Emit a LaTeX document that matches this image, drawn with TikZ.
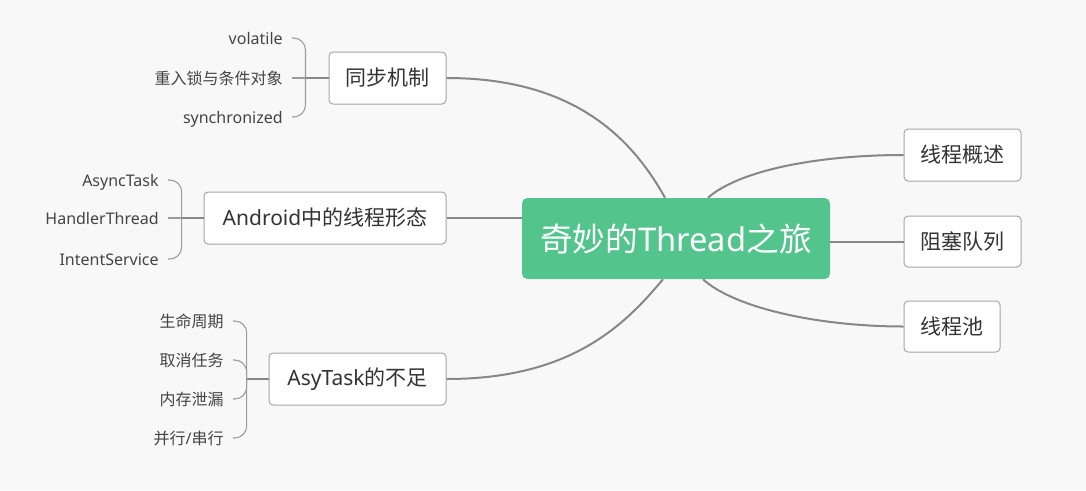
\documentclass[tikz,border=0pt]{standalone}
\usepackage{fontspec}
\setmainfont{Noto Sans}
\newfontfamily\cjk{Noto Sans CJK SC}
\usetikzlibrary{calc}
\definecolor{bg}{HTML}{F8F8F8}
\definecolor{mgreen}{HTML}{52C48C}
\definecolor{linegray}{HTML}{878787}
\definecolor{bracegray}{HTML}{9A9A9A}
\definecolor{boxgray}{HTML}{A6A6A6}
\definecolor{txt}{HTML}{333333}
\definecolor{leaftxt}{HTML}{444444}
\begin{document}
\begin{tikzpicture}[x=0.75pt,y=-0.75pt,
  central/.style={fill=mgreen, rounded corners=4pt, minimum width=231pt, minimum height=60.75pt, inner sep=0pt, text=white, font=\fontsize{24.5}{28}\selectfont},
  topic/.style={draw=boxgray, line width=0.75pt, fill=white, rounded corners=3pt, minimum height=39pt, inner sep=0pt, text=txt, font=\fontsize{15.75}{18}\selectfont},
  leaf/.style={inner sep=0pt, outer xsep=7pt, anchor=east, text=leaftxt, font=\fontsize{12}{14}\selectfont, text height=10.5pt, text depth=1.5pt},
  mainline/.style={draw=linegray, line width=1.5pt},
  trunk/.style={draw=linegray, line width=1.4pt},
  brace/.style={draw=bracegray, line width=0.8pt, rounded corners=9pt}]
\useasboundingbox (0,0) rectangle (1086,490);
\fill[bg] (0,0) rectangle (1086,490);

% central and topics
\node[central] (c) at (676,238.5) {{\cjk 奇妙的}Thread{\cjk 之旅}};
\node[topic, minimum width=87.75pt] (t1) at (387.5,78) {\cjk 同步机制};
\node[topic, minimum width=181.5pt] (t2) at (325,218) {Android{\cjk 中的线程形态}};
\node[topic, minimum width=132.75pt] (t3) at (357.5,379) {AsyTask{\cjk 的不足}};
\node[topic, minimum width=87.75pt] (r1) at (962.5,155) {\cjk 线程概述};
\node[topic, minimum width=87.75pt, minimum height=38.25pt] (r2) at (962.5,241.5) {\cjk 阻塞队列};
\node[topic, minimum width=72pt, minimum height=38.25pt] (r3) at (952,326.5) {\cjk 线程池};

% main connectors
\draw[mainline] (t1.east) .. controls +(124,0) and +(-35,-63) .. ([xshift=-8.25pt]c.north);
\draw[mainline] (t2.east) -- (t2.east -| c.west);
\draw[mainline] (t3.east) .. controls +(124,0) and +(-39,46.6) .. ([xshift=-9.75pt]c.south);
\draw[mainline] ([xshift=24pt]c.north) .. controls +(32,-28) and +(-84,0) .. (r1.west);
\draw[mainline] (r2.west -| c.east) -- (r2.west);
\draw[mainline] ([xshift=20.25pt]c.south) .. controls +(32,29) and +(-84,0) .. (r3.west);

% group 1
\coordinate (j1) at (305.5,78);
\node[leaf] (l11) at (292,38) {volatile};
\node[leaf] (l12) at (292,78) {\cjk 重入锁与条件对象};
\node[leaf] (l13) at (292,117) {synchronized};
\draw[trunk] (t1.west) -- (j1);
\draw[brace] (j1) |- (l11.east);
\draw[brace] (j1) -- (l12.east);
\draw[brace] (j1) |- (l13.east);

% group 2
\coordinate (j2) at (181.7,218);
\node[leaf] (l21) at (168,180) {AsyncTask};
\node[leaf] (l22) at (168,218) {HandlerThread};
\node[leaf] (l23) at (168,259) {IntentService};
\draw[trunk] (t2.west) -- (j2);
\draw[brace] (j2) |- (l21.east);
\draw[brace] (j2) -- (l22.east);
\draw[brace] (j2) |- (l23.east);

% group 3
\coordinate (j3) at (246.7,379);
\node[leaf] (l31) at (233,321) {\cjk 生命周期};
\node[leaf] (l32) at (233,360) {\cjk 取消任务};
\node[leaf] (l33) at (233,399) {\cjk 内存泄漏};
\node[leaf] (l34) at (233,438) {{\cjk 并行}/{\cjk 串行}};
\draw[trunk] (t3.west) -- (j3);
\draw[brace] (j3) |- (l31.east);
\draw[brace] (j3) |- (l32.east);
\draw[brace] (j3) |- (l33.east);
\draw[brace] (j3) |- (l34.east);
\end{tikzpicture}
\end{document}
